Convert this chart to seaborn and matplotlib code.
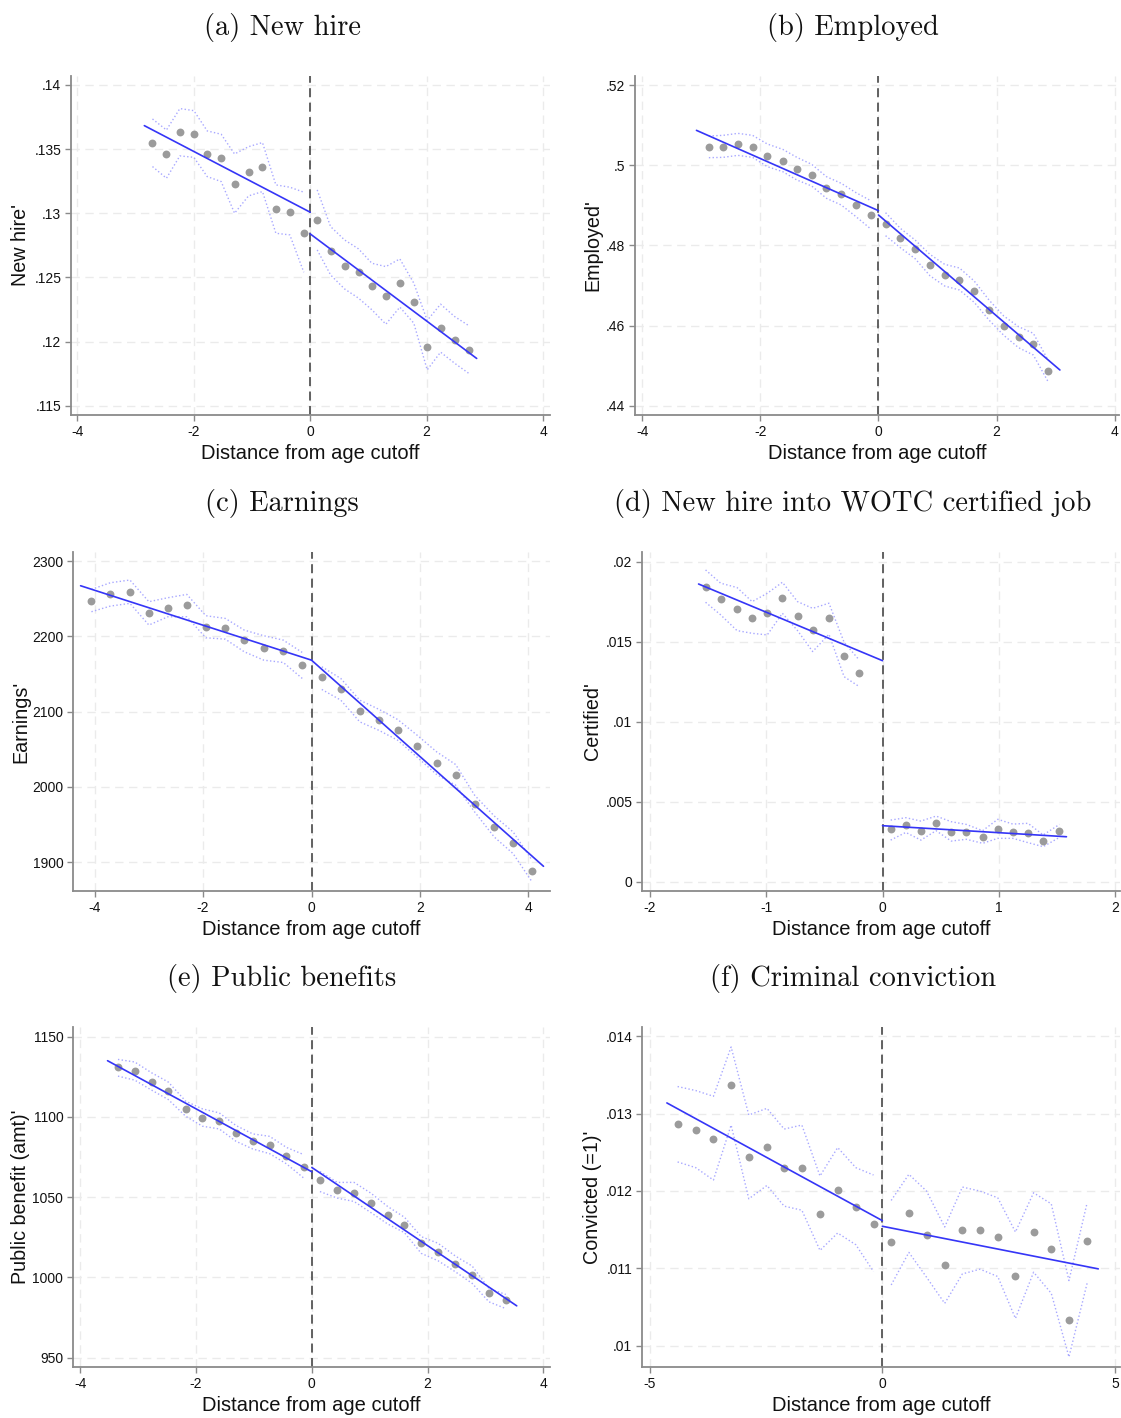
import numpy as np
import pandas as pd
import matplotlib
matplotlib.use("Agg")
import matplotlib.pyplot as plt
import matplotlib.transforms as mtransforms
import seaborn as sns

# ---------------------------------------------------------------- data
# (a) New hire
a_x = [-2.71, -2.47, -2.24, -2.00, -1.77, -1.53, -1.30, -1.06, -0.82, -0.59, -0.35, -0.11,
       0.12, 0.35, 0.59, 0.83, 1.06, 1.30, 1.54, 1.78, 2.01, 2.24, 2.48, 2.72]
a_y = [.13545, .1346, .13634, .13621, .13465, .13434, .13231, .13322, .13361, .13034, .13013, .12847,
       .12948, .12704, .12592, .12540, .12429, .12358, .12460, .12309, .11958, .12109, .12008, .11935]
a_lo = [.13364, .13273, .13447, .13436, .13286, .13247, .13000, .13135, .13169, .12844, .12831, .12540,
        .12714, .12519, .12410, .12338, .12247, .12135, .12268, .12143, .11779, .11917, .11831, .11753]
a_hi = [.13735, .13649, .13816, .13800, .13642, .13616, .13462, .13519, .13551, .13221, .13203, .13164,
        .13182, .12896, .12792, .12722, .12610, .12584, .12644, .12455, .12164, .12291, .12195, .12125]
a_fit_left = ([-2.85, 0.0], [.13683, .13008])
a_fit_right = ([0.0, 2.86], [.12839, .11868])

# (b) Employed
b_x = [-2.87, -2.63, -2.38, -2.13, -1.88, -1.62, -1.38, -1.13, -0.88, -0.63, -0.38, -0.13,
       0.12, 0.37, 0.62, 0.87, 1.12, 1.37, 1.62, 1.87, 2.12, 2.37, 2.62, 2.87]
b_y = [.50462, .50462, .50520, .50462, .50237, .50112, .49896, .49746, .49430, .49272, .48998, .48757,
       .48532, .48175, .47909, .47501, .47252, .47144, .46853, .46387, .45996, .45713, .45538, .44857]
b_lo = [.50187, .50195, .50245, .50195, .49963, .49838, .49630, .49480, .49173, .49006, .48715, .48408,
        .48241, .47942, .47667, .47243, .46985, .46886, .46578, .46137, .45755, .45447, .45264, .44599]
b_hi = [.50728, .50744, .50794, .50744, .50528, .50395, .50195, .50021, .49713, .49547, .49314, .49114,
        .48815, .48424, .48133, .47775, .47526, .47435, .47110, .46636, .46237, .45971, .45805, .45139]
b_fit_left = ([-3.08, 0.0], [.50869, .48865])
b_fit_right = ([0.0, 3.07], [.48757, .44890])

# (c) Earnings
c_x = [-4.06, -3.71, -3.35, -3.00, -2.65, -2.30, -1.95, -1.59, -1.24, -0.88, -0.52, -0.17,
       0.19, 0.54, 0.89, 1.25, 1.59, 1.95, 2.31, 2.66, 3.01, 3.37, 3.72, 4.07]
c_y = [2246.8, 2256.1, 2258.8, 2230.5, 2237.5, 2241.1, 2212.7, 2210.5, 2195.0, 2184.4, 2180.8, 2161.8,
       2145.4, 2129.9, 2101.5, 2088.7, 2075.9, 2054.2, 2031.6, 2016.5, 1977.5, 1947.4, 1926.2, 1888.5]
c_lo = [2232.7, 2240.2, 2243.8, 2215.0, 2226.0, 2226.0, 2198.1, 2196.3, 2179.5, 2168.4, 2165.3, 2144.1,
        2129.5, 2115.3, 2086.5, 2075.0, 2062.1, 2039.5, 2016.5, 2002.3, 1966.9, 1933.7, 1911.5, 1873.9]
c_hi = [2262.3, 2271.2, 2274.8, 2246.0, 2251.3, 2255.7, 2227.4, 2223.8, 2208.3, 2200.8, 2195.0, 2178.6,
        2159.6, 2144.1, 2115.3, 2102.9, 2089.6, 2068.7, 2046.6, 2029.8, 1989.0, 1961.6, 1940.3, 1902.7]
c_fit_left = ([-4.26, 0.0], [2267.2, 2168.4])
c_fit_right = ([0.0, 4.28], [2168.4, 1894.7])

# (d) New hire into WOTC certified job
d_x = [-1.52, -1.39, -1.25, -1.12, -0.99, -0.86, -0.73, -0.60, -0.46, -0.33, -0.20,
       0.07, 0.20, 0.33, 0.46, 0.59, 0.72, 0.86, 0.99, 1.12, 1.25, 1.38, 1.52]
d_y = [.01844, .01765, .01704, .01650, .01677, .01773, .01660, .01571, .01646, .01410, .01302,
       .00327, .00354, .00319, .00365, .00312, .00312, .00279, .00327, .00312, .00304, .00256, .00317]
d_lo = [.01746, .01667, .01569, .01552, .01542, .01677, .01569, .01438, .01546, .01281, .01219,
        .00260, .00308, .00260, .00319, .00254, .00265, .00240, .00271, .00271, .00244, .00219, .00277]
d_hi = [.01948, .01865, .01838, .01750, .01802, .01871, .01750, .01708, .01740, .01496, .01385,
        .00385, .00400, .00379, .00410, .00375, .00358, .00319, .00390, .00360, .00365, .00292, .00358]
d_fit_left = ([-1.58, 0.0], [.01860, .01381])
d_fit_right = ([0.0, 1.58], [.00350, .00281])

# (e) Public benefits
e_x = [-3.35, -3.06, -2.77, -2.48, -2.18, -1.89, -1.60, -1.31, -1.02, -0.73, -0.44, -0.14,
       0.14, 0.44, 0.73, 1.02, 1.31, 1.60, 1.89, 2.18, 2.48, 2.77, 3.06, 3.35]
e_y = [1130.8, 1128.8, 1121.5, 1116.0, 1105.2, 1099.6, 1097.7, 1089.8, 1085.0, 1082.3, 1075.8, 1069.0,
       1061.0, 1054.6, 1052.9, 1046.3, 1038.8, 1032.7, 1021.3, 1015.6, 1008.1, 1001.5, 990.6, 985.8]
e_lo = [1125.4, 1122.9, 1116.7, 1110.8, 1100.4, 1094.2, 1092.5, 1084.8, 1080.0, 1077.1, 1070.8, 1061.9,
        1053.5, 1049.4, 1047.3, 1040.4, 1033.3, 1027.9, 1015.0, 1010.4, 1003.5, 996.3, 984.8, 980.6]
e_hi = [1135.8, 1134.2, 1127.5, 1121.7, 1109.8, 1105.0, 1102.5, 1094.6, 1089.4, 1087.9, 1081.0, 1076.5,
        1066.0, 1059.2, 1059.2, 1052.5, 1044.2, 1037.5, 1025.4, 1021.3, 1013.3, 1007.1, 993.1, 989.4]
e_fit_left = ([-3.53, 0.0], [1135.0, 1065.8])
e_fit_right = ([0.0, 3.54], [1068.5, 982.3])

# (f) Criminal conviction
f_x = [-4.40, -4.01, -3.63, -3.25, -2.87, -2.48, -2.11, -1.73, -1.34, -0.96, -0.57, -0.19,
       0.19, 0.57, 0.95, 1.34, 1.72, 2.10, 2.48, 2.86, 3.25, 3.63, 4.01, 4.40]
f_y = [.012865, .012791, .012678, .013367, .012436, .012574, .012297, .012297, .011703, .012011, .011795, .011577,
       .011335, .011716, .011434, .011036, .011499, .011491, .011408, .010901, .011465, .011252, .010334, .011348]
f_lo = [.012375, .012301, .012141, .012852, .011898, .012071, .011803, .011751, .011231, .011456, .011304, .010958,
        .010784, .011205, .010884, .010546, .010927, .010988, .010893, .010351, .010949, .010676, .009853, .010806]
f_hi = [.013350, .013298, .013224, .013861, .012982, .013068, .012800, .012852, .012193, .012561, .012301, .012206,
        .011877, .012215, .011998, .011534, .012050, .011998, .011911, .011469, .011976, .011833, .010841, .011846]
f_fit_left = ([-4.63, 0.0], [.013138, .011616])
f_fit_right = ([0.0, 4.64], [.011543, .010992])

titles = ["(a) New hire", "(b) Employed", "(c) Earnings",
          "(d) New hire into WOTC certified job", "(e) Public benefits", "(f) Criminal conviction"]
ylabels = ["New hire'", "Employed'", "Earnings'", "Certified'",
           "Public benefit (amt)'", "Convicted (=1)'"]
xlabel = "Distance from age cutoff"

a_yticks, a_yticklabels = [.115, .12, .125, .13, .135, .14], [".115", ".12", ".125", ".13", ".135", ".14"]
b_yticks, b_yticklabels = [.44, .46, .48, .50, .52], [".44", ".46", ".48", ".5", ".52"]
c_yticks, c_yticklabels = [1900, 2000, 2100, 2200, 2300], ["1900", "2000", "2100", "2200", "2300"]
d_yticks, d_yticklabels = [0, .005, .01, .015, .02], ["0", ".005", ".01", ".015", ".02"]
e_yticks, e_yticklabels = [950, 1000, 1050, 1100, 1150], ["950", "1000", "1050", "1100", "1150"]
f_yticks, f_yticklabels = [.010, .011, .012, .013, .014], [".01", ".011", ".012", ".013", ".014"]
x4_ticks = [-4, -2, 0, 2, 4]
x2_ticks = [-2, -1, 0, 1, 2]
x5_ticks = [-5, 0, 5]

# ---------------------------------------------------------------- style
sns.set_style("white")
plt.rcParams['font.family'] = ['Liberation Sans', 'DejaVu Sans']
plt.rcParams['axes.unicode_minus'] = False

W, H = 1121, 1418
fig = plt.figure(figsize=(W / 100, H / 100), dpi=100)

DOT = "#9b9b9b"
FIT = "#3535f7"
BAND = "#a8a8ff"
SPINE = "#8a8a8a"
GRID = "#ebebeb"


def px_axes(left, top, right, bottom):
    return fig.add_axes([left / W, 1 - bottom / H, (right - left) / W, (bottom - top) / H])


panels = [
    dict(x=a_x, y=a_y, lo=a_lo, hi=a_hi, fl=a_fit_left, fr=a_fit_right,
         box=(71, 76, 550, 415), xlim=(-4.11, 4.12), ylim=(.11427, .1407),
         xt=x4_ticks, yt=a_yticks, ytl=a_yticklabels, col=0),
    dict(x=b_x, y=b_y, lo=b_lo, hi=b_hi, fl=b_fit_left, fr=b_fit_right,
         box=(635, 76, 1119, 415), xlim=(-4.12, 4.07), ylim=(.43767, .52225),
         xt=x4_ticks, yt=b_yticks, ytl=b_yticklabels, col=1),
    dict(x=c_x, y=c_y, lo=c_lo, hi=c_hi, fl=c_fit_left, fr=c_fit_right,
         box=(73, 552, 550, 891), xlim=(-4.4, 4.4), ylim=(1861.9, 2312.0),
         xt=x4_ticks, yt=c_yticks, ytl=c_yticklabels, col=0),
    dict(x=d_x, y=d_y, lo=d_lo, hi=d_hi, fl=d_fit_left, fr=d_fit_right,
         box=(642, 552, 1120, 891), xlim=(-2.066, 2.04), ylim=(-.00058, .0206),
         xt=x2_ticks, yt=d_yticks, ytl=d_yticklabels, col=1),
    dict(x=e_x, y=e_y, lo=e_lo, hi=e_hi, fl=e_fit_left, fr=e_fit_right,
         box=(73, 1027, 550, 1367), xlim=(-4.127, 4.115), ylim=(944.2, 1156.0),
         xt=x4_ticks, yt=e_yticks, ytl=e_yticklabels, col=0),
    dict(x=f_x, y=f_y, lo=f_lo, hi=f_hi, fl=f_fit_left, fr=f_fit_right,
         box=(642, 1027, 1120, 1367), xlim=(-5.165, 5.107), ylim=(.009723, .01412),
         xt=x5_ticks, yt=f_yticks, ytl=f_yticklabels, col=1),
]

title_cx = [282, 853]
ylabel_anchor = [30, 602]

for i, p in enumerate(panels):
    ax = px_axes(*p["box"])
    df = pd.DataFrame({"x": p["x"], "y": p["y"], "lo": p["lo"], "hi": p["hi"]})
    df["side"] = np.where(df["x"] < 0, "left", "right")

    ax.set_xlim(*p["xlim"])
    ax.set_ylim(*p["ylim"])
    ax.set_xticks(p["xt"])
    ax.set_xticklabels([str(t) for t in p["xt"]])
    ax.set_yticks(p["yt"])
    ax.set_yticklabels(p["ytl"])

    # light dashed grid at the major ticks
    for xt in p["xt"]:
        ax.axvline(xt, color=GRID, lw=1.0, ls=(0, (6, 4)), zorder=0)
    for yt in p["yt"]:
        ax.axhline(yt, color=GRID, lw=1.0, ls=(0, (6, 4)), zorder=0)

    # confidence bands (dotted) for each side of the cutoff
    for side, g in df.groupby("side"):
        sns.lineplot(x=g["x"], y=g["lo"], ax=ax, color=BAND, lw=1.0, ls=":",
                     sort=False, estimator=None, zorder=2)
        sns.lineplot(x=g["x"], y=g["hi"], ax=ax, color=BAND, lw=1.0, ls=":",
                     sort=False, estimator=None, zorder=2)

    # binned means
    sns.scatterplot(data=df, x="x", y="y", ax=ax, color=DOT, s=32, linewidth=0, zorder=3)

    # linear fits on either side of the cutoff
    for fx, fy in (p["fl"], p["fr"]):
        sns.lineplot(x=fx, y=fy, ax=ax, color=FIT, lw=1.2, sort=False,
                     estimator=None, zorder=4)

    # cutoff
    ax.axvline(0, color="#555555", lw=1.3, ls=(0, (5, 3)), zorder=1)

    for s in ("top", "right"):
        ax.spines[s].set_visible(False)
    for s in ("left", "bottom"):
        ax.spines[s].set_color(SPINE)
        ax.spines[s].set_linewidth(1.3)
    ax.tick_params(axis="both", direction="out", length=4.5, width=1.0, color=SPINE,
                   labelsize=10.0, labelcolor="#111111", pad=2.5, left=True, bottom=True)

    ax.set_xlabel(xlabel, fontsize=14.5, color="#111111", labelpad=4)
    ax.set_ylabel(ylabels[i], fontsize=14.2, color="#111111")
    ax.yaxis.set_label_coords(ylabel_anchor[p["col"]] / W, 0.5,
                              transform=mtransforms.blended_transform_factory(fig.transFigure, ax.transAxes))
    ax.set_facecolor("white")

    top_px = p["box"][1]
    fig.text(title_cx[p["col"]] / W, 1 - (top_px - 41) / H, titles[i],
             family="cmr10", fontsize=20.5, ha="center", va="baseline", color="#111111")

fig.savefig("out.png", dpi=100, facecolor="white")
